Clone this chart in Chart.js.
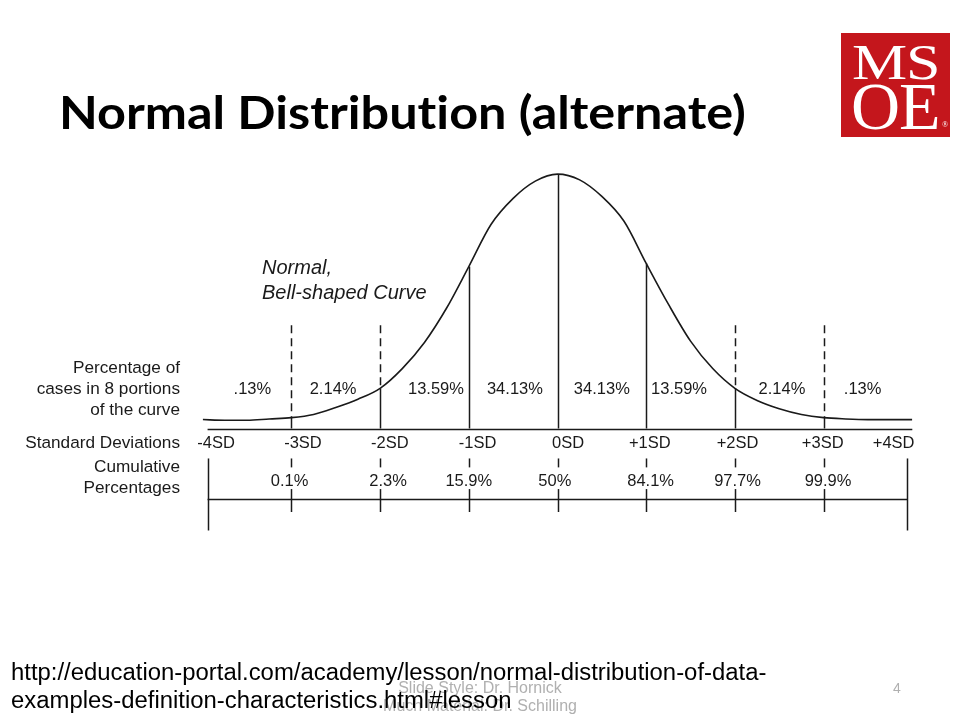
<!DOCTYPE html>
<html>
<head>
<meta charset="utf-8">
<title>Normal Distribution (alternate)</title>
<script src="https://cdn.jsdelivr.net/npm/chart.js@4.4.1/dist/chart.umd.min.js"></script>
<style>
  body { margin: 0; background: #fff; }
  #slide { position: relative; width: 960px; height: 720px; overflow: hidden; background: #fff; }
  #chart { position: absolute; left: 0; top: 0; }
  #title { position: absolute; left: 59px; top: 86px; font: bold 46px Lato, sans-serif; line-height: 52px;
           white-space: nowrap; display: inline-block; transform-origin: 0 50%; color: #000;
           font-variant-ligatures: none; }
  #logo { position: absolute; left: 841px; top: 33px; width: 109px; height: 104px; background: #c4161c;
          color: #fff; font-family: 'Liberation Serif', serif; }
  #logo span { position: absolute; white-space: nowrap; line-height: 1; transform-origin: 0 0; }
  #logo .l1 { left: 11px; top: 4px; font-size: 50px; transform: scaleX(1.24); letter-spacing: -1px; }
  #logo .l2 { left: 10px; top: 39px; font-size: 68px; letter-spacing: -1px; }
  #logo .reg { left: 101px; top: 88px; font-size: 8px; }
  #credit { position: absolute; left: 0; top: 679px; width: 960px; text-align: center; color: #b0b0b0;
            font: 16px 'Liberation Sans', Arial, sans-serif; line-height: 18px; }
  #page { position: absolute; left: 893px; top: 679px; color: #b0b0b0; font: 14px 'Liberation Sans', Arial, sans-serif; line-height: 18px; }
  #source { position: absolute; left: 11px; top: 658px; color: #000; white-space: nowrap; display: inline-block;
            font: 23px 'Liberation Sans', Arial, sans-serif; line-height: 28px; transform-origin: 0 0; }
</style>
</head>
<body>
<div id="slide">
  <canvas id="chart" width="960" height="720"></canvas>
  <div id="title">Normal Distribution (alternate)</div>
  <div id="logo"><span class="l1">MS</span><span class="l2">OE</span><span class="reg">®</span></div>
  <div id="credit">Slide Style: Dr. Hornick<br>Much Material: Dr. Schilling</div>
  <div id="page">4</div>
  <div id="source">http://education-portal.com/academy/lesson/normal-distribution-of-data-<br>examples-definition-characteristics.html#lesson</div>
</div>
<script>
// standard deviations along the axis
const sdTicks = [-4, -3, -2, -1, 0, 1, 2, 3, 4];
const sdLabels = ['-4SD', '-3SD', '-2SD', '-1SD', '0SD', '+1SD', '+2SD', '+3SD', '+4SD'];

// percentage of cases between neighbouring SD lines
const portionLabels = ['.13%', '2.14%', '13.59%', '34.13%', '34.13%', '13.59%', '2.14%', '.13%'];

// cumulative percentage at -3SD .. +3SD
const cumulativeTicks = [-3, -2, -1, 0, 1, 2, 3];
const cumulativeLabels = ['0.1%', '2.3%', '15.9%', '50%', '84.1%', '97.7%', '99.9%'];

// bell curve (height above the baseline)
const curveX = [-4, -3.75, -3.5, -3.25, -3, -2.75, -2.5, -2.25, -2, -1.75, -1.5, -1.25, -1, -0.75, -0.5, -0.25,
                0, 0.25, 0.5, 0.75, 1, 1.25, 1.5, 1.75, 2, 2.25, 2.5, 2.75, 3, 3.25, 3.5, 3.75, 4];
const curveY = [0.014, 0.013, 0.013, 0.015, 0.017, 0.022, 0.033, 0.046, 0.063, 0.094, 0.135, 0.189, 0.254, 0.320, 0.361, 0.388,
                0.399, 0.390, 0.364, 0.325, 0.259, 0.195, 0.137, 0.094, 0.063, 0.044, 0.031, 0.022, 0.017, 0.015, 0.014, 0.014, 0.014];

const sideLabels = [
  ['Percentage of', 0.0947], ['cases in 8 portions', 0.0617], ['of the curve', 0.0287],
  ['Standard Deviations', -0.0231], ['Cumulative', -0.0607], ['Percentages', -0.0937]
];

const ink = '#1a1a1a';
const labelFont = "16.5px 'Liberation Sans', Arial, sans-serif";
const sideFont = "17.2px 'Liberation Sans', Arial, sans-serif";

function curveAt(x) {
  const i = curveX.indexOf(x);
  return i >= 0 ? curveY[i] : 0;
}

const diagramPlugin = {
  id: 'diagram',
  afterDatasetsDraw(chart) {
    const { ctx } = chart;
    const sx = chart.scales.x, sy = chart.scales.y;
    const px = (v) => sx.getPixelForValue(v);
    const py = (v) => sy.getPixelForValue(v);
    const edge = 3.945;

    const seg = (x, y1, y2, dash) => {
      ctx.setLineDash(dash ? [8, 5] : []);
      ctx.beginPath();
      ctx.moveTo(Math.round(px(x)) + 0.5, py(y1));
      ctx.lineTo(Math.round(px(x)) + 0.5, py(y2));
      ctx.stroke();
    };

    ctx.save();
    ctx.strokeStyle = ink;
    ctx.lineWidth = 1.5;

    // baseline and cumulative axis
    ctx.beginPath();
    ctx.moveTo(px(-edge), Math.round(py(0)) + 0.5);
    ctx.lineTo(px(4), Math.round(py(0)) + 0.5);
    ctx.moveTo(px(-edge), Math.round(py(-0.111)) + 0.5);
    ctx.lineTo(px(edge), Math.round(py(-0.111)) + 0.5);
    ctx.stroke();

    // verticals above the baseline
    sdTicks.forEach((t) => {
      if (Math.abs(t) > 3) return;
      const top = curveAt(t);
      if (Math.abs(t) >= 2) seg(t, 0.162, top, true);
      seg(t, top, 0, false);
    });

    // verticals below the baseline
    cumulativeTicks.forEach((t) => {
      seg(t, -0.047, -0.061, false);
      seg(t, -0.095, -0.131, false);
    });
    seg(-edge, -0.047, -0.160, false);
    seg(edge, -0.047, -0.160, false);

    ctx.setLineDash([]);
    ctx.fillStyle = ink;
    ctx.font = labelFont;
    ctx.textBaseline = 'middle';

    // portion percentages
    const portionNudge = [0.06, -0.03, 0.13, 0.02, 0, -0.13, 0.03, -0.06];
    ctx.textAlign = 'center';
    portionLabels.forEach((lab, i) => {
      const mid = (sdTicks[i] + sdTicks[i + 1]) / 2 + portionNudge[i];
      ctx.fillText(lab, px(mid), py(0.0617));
    });

    // SD labels
    const sdNudge = [0.15, 0.13, 0.11, 0.10, 0.12, 0.04, 0.03, -0.01, -0.21];
    sdLabels.forEach((lab, i) => {
      ctx.fillText(lab, px(sdTicks[i] + sdNudge[i]), py(-0.0231));
    });

    // cumulative labels
    const cumNudge = [-0.02, 0.09, 0, -0.03, 0.05, 0.03, 0.05];
    cumulativeLabels.forEach((lab, i) => {
      ctx.fillText(lab, px(cumulativeTicks[i] + cumNudge[i]), py(-0.0827));
    });

    // row labels on the left
    ctx.textAlign = 'right';
    ctx.font = sideFont;
    sideLabels.forEach(([txt, v]) => ctx.fillText(txt, 180, py(v)));

    // curve caption
    ctx.textAlign = 'left';
    ctx.font = "italic 20px 'Liberation Sans', Arial, sans-serif";
    ctx.fillText('Normal,', 262, py(0.2515));
    ctx.fillText('Bell-shaped Curve', 262, py(0.2122));

    ctx.restore();
  }
};

new Chart(document.getElementById('chart'), {
  type: 'line',
  data: {
    datasets: [{
      label: 'Normal curve',
      data: curveX.map((x, i) => ({ x, y: curveY[i] })),
      borderColor: ink,
      borderWidth: 1.6,
      pointRadius: 0,
      fill: false,
      cubicInterpolationMode: 'monotone'
    }]
  },
  options: {
    responsive: false,
    animation: false,
    devicePixelRatio: 1,
    layout: { padding: { left: 202.7, right: 47.7, top: 148, bottom: 164 } },
    plugins: { legend: { display: false }, tooltip: { enabled: false }, title: { display: false } },
    scales: {
      x: { type: 'linear', min: -4, max: 4, display: false },
      y: { min: -0.2, max: 0.44, display: false }
    }
  },
  plugins: [diagramPlugin]
});

const title = document.getElementById('title');
title.style.transform = 'scaleX(' + (687 / title.offsetWidth) + ')';
const source = document.getElementById('source');
source.style.transform = 'scaleX(' + (755 / source.offsetWidth) + ')';
</script>
</body>
</html>
